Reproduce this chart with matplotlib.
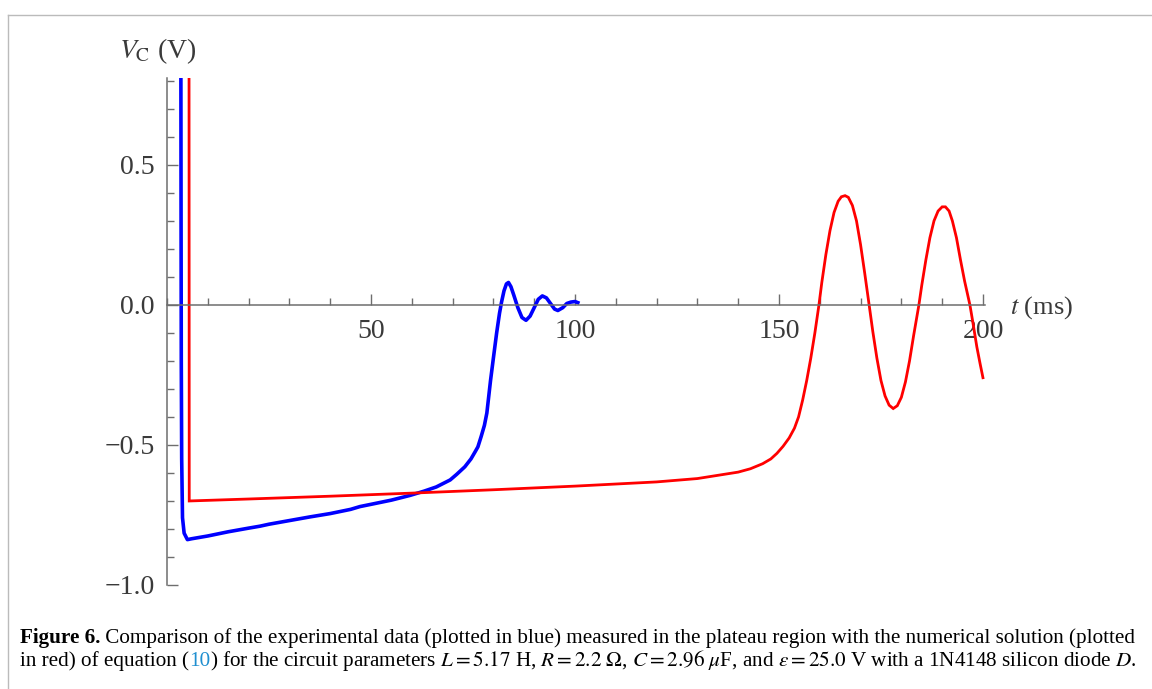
#!/usr/bin/env python3
# -*- coding: utf-8 -*-
import numpy as np
import matplotlib
matplotlib.use('Agg')
import matplotlib.pyplot as plt
from matplotlib.ticker import MultipleLocator, FixedLocator
from matplotlib.lines import Line2D

plt.rcParams['font.family'] = ['Liberation Serif', 'DejaVu Serif']
plt.rcParams['mathtext.fontset'] = 'stix'

# measured data (blue), t in ms, V_C in V
t_exp = [3.4, 3.45, 3.5, 3.6, 3.8, 4.2, 5.0, 6.0, 8.0, 10, 15, 20, 22.8, 25, 30, 35,
         40, 45, 47.3, 50, 55, 59.6, 63, 66, 69.4, 71, 73, 74.5, 75.5, 76.2, 77,
         77.8, 78.4, 79.3, 80, 80.8, 81.5, 82, 82.6, 83.2, 83.7, 84.3, 85, 86, 87,
         88, 89, 90, 91, 92, 93, 94, 95, 95.8, 97, 98, 99, 100, 100.7]
v_exp = [0.9, 0.3, -0.2, -0.55, -0.76, -0.815, -0.838, -0.835, -0.83, -0.825, -0.81,
         -0.797, -0.79, -0.783, -0.77, -0.757, -0.745, -0.73, -0.72, -0.712, -0.697,
         -0.68, -0.665, -0.65, -0.625, -0.605, -0.578, -0.55, -0.525, -0.507, -0.47,
         -0.43, -0.386, -0.27, -0.19, -0.10, -0.03, 0.01, 0.05, 0.075, 0.08, 0.065,
         0.035, -0.01, -0.045, -0.055, -0.04, -0.01, 0.02, 0.032, 0.025, 0.005,
         -0.015, -0.02, -0.01, 0.005, 0.01, 0.012, 0.008]

# numerical solution (red)
t_num = [5.4, 5.45, 20, 40, 60, 80, 100, 120, 130, 140, 143, 146, 148, 149.5, 151,
         152.5, 153.8, 154.8, 155.8, 156.8, 157.8, 158.8, 159.8, 160.5, 161.5, 162.5,
         163.5, 164.5, 165.3, 166.2, 167.0, 168.0, 169.0, 170.0, 171.0, 172.1, 173.0,
         174.0, 175.0, 176.0, 177.0, 178.0, 179.0, 180.0, 181.0, 182.0, 183.0, 184.3,
         185.0, 186.0, 187.0, 188.0, 189.0, 190.0, 190.8, 191.7, 192.5, 193.5, 194.5,
         195.5, 196.8, 197.5, 198.5, 199.3, 200.0]
v_num = [0.9, -0.70, -0.693, -0.683, -0.672, -0.66, -0.647, -0.632, -0.62, -0.597,
         -0.585, -0.567, -0.55, -0.53, -0.505, -0.475, -0.44, -0.40, -0.34, -0.27,
         -0.19, -0.10, 0.0, 0.08, 0.18, 0.265, 0.33, 0.37, 0.386, 0.39, 0.384, 0.355,
         0.30, 0.215, 0.115, 0.0, -0.095, -0.19, -0.27, -0.325, -0.358, -0.37, -0.36,
         -0.33, -0.275, -0.20, -0.11, 0.0, 0.07, 0.16, 0.24, 0.30, 0.335, 0.35, 0.35,
         0.335, 0.30, 0.24, 0.16, 0.085, 0.0, -0.06, -0.15, -0.21, -0.26]

x_major = [50, 100, 150, 200]
y_major = [-1.0, -0.5, 0.0, 0.5]

fig = plt.figure(figsize=(11.52, 6.89), dpi=100)
ax = fig.add_axes([167 / 1152, 1 - 585 / 689, (985 - 167) / 1152, (585 - 78) / 689])

ax.plot(t_exp, v_exp, color='#0000ff', lw=2.6, solid_joinstyle='round')
ax.plot(t_num, v_num, color='#ff0000', lw=2.0, solid_joinstyle='miter')

ax.set_xlim(0, 200.5)
ax.set_ylim(-1.0, 0.81)

gray = '#6e6e6e'
for s in ['top', 'right']:
    ax.spines[s].set_visible(False)
ax.spines['bottom'].set_position(('data', 0))
ax.spines['bottom'].set_color(gray)
ax.spines['left'].set_color(gray)
ax.spines['bottom'].set_linewidth(1.1)
ax.spines['left'].set_linewidth(1.1)

ax.xaxis.set_major_locator(FixedLocator(x_major))
ax.xaxis.set_minor_locator(MultipleLocator(10))
ax.yaxis.set_major_locator(FixedLocator(y_major))
ax.yaxis.set_minor_locator(MultipleLocator(0.1))
ax.set_yticklabels([('%.1f' % v).replace('-', '\u2212') for v in y_major])
ax.tick_params(which='both', direction='in', color=gray, width=1.0,
               labelsize=20, labelcolor='#3a3a3a')
ax.tick_params(which='major', length=8)
ax.tick_params(which='minor', length=5)
ax.tick_params(axis='x', pad=10)
ax.tick_params(axis='y', pad=9)

fig.text(158 / 1152, 1 - 58 / 689, r'$V_{\mathrm{C}}$ (V)', ha='center',
         va='baseline', fontsize=20, color='#3a3a3a')
fig.text(1010 / 1152, 1 - 314 / 689, r'$t$ (ms)', ha='left', va='baseline',
         fontsize=19, color='#3a3a3a')

# figure frame
fig.add_artist(Line2D([8 / 1152, 8 / 1152], [0, 1 - 15 / 689], color='#bbbbbb', lw=1))
fig.add_artist(Line2D([8 / 1152, 1], [1 - 15 / 689, 1 - 15 / 689], color='#bbbbbb', lw=1))

# caption, pieces with different colours/weights
fig.canvas.draw()
renderer = fig.canvas.get_renderer()
cap_size = 15.2
link = '#1f8fd0'

def put_pieces(pieces, x0, y0):
    x = x0
    for txt, col, wt in pieces:
        tt = fig.text(x, y0, txt, color=col, fontweight=wt, fontsize=cap_size,
                      ha='left', va='baseline')
        bb = tt.get_window_extent(renderer)
        x = x + bb.width / fig.bbox.width

line1 = [('Figure 6.', 'black', 'bold'),
         (' Comparison of the experimental data (plotted in blue) measured in the plateau '
          'region with the numerical solution (plotted', 'black', 'normal')]
line2 = [('in red) of equation (', 'black', 'normal'),
         ('10', link, 'normal'),
         (r') for the circuit parameters $L = 5.17$ H, $R = 2.2\ \Omega$, $C = 2.96\ \mu$F, '
          r'and $\varepsilon = 25.0$ V with a 1N4148 silicon diode $D$.', 'black', 'normal')]
put_pieces(line1, 20 / 1152, 1 - 643 / 689)
put_pieces(line2, 20 / 1152, 1 - 666 / 689)

fig.savefig('out.png', dpi=100)
